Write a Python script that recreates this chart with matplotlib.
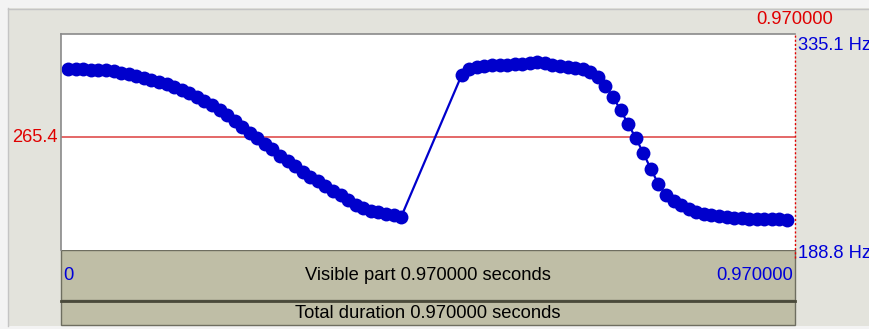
import matplotlib
matplotlib.use('Agg')
import matplotlib.pyplot as plt
import numpy as np
from matplotlib.patches import Rectangle

plt.rcParams['font.family'] = ['Liberation Sans', 'DejaVu Sans']

# pitch frames (10 ms step), two voiced stretches
frame_step = 0.01
first_frame_time = 0.0095
seg1_start = 0
seg2_start = 52
seg1_hz = [311.4, 311.4, 311.1, 310.7, 310.7, 310.4, 310.0, 309.0, 308.0, 306.6,
           305.3, 303.9, 302.6, 300.9, 299.2, 297.2, 295.1, 292.4, 289.7, 287.0,
           283.6, 280.2, 276.2, 272.1, 268.0, 264.7, 260.6, 257.2, 252.5, 249.1,
           245.7, 241.6, 238.2, 235.5, 232.1, 228.8, 226.1, 222.7, 219.3, 217.2,
           215.2, 214.2, 213.2, 212.5, 211.2]
seg2_hz = [307.3, 311.4, 312.7, 313.4, 313.8, 314.1, 314.4, 314.8, 315.1, 315.5,
           315.8, 315.5, 314.4, 313.4, 312.7, 312.1, 311.4, 309.4, 306.0, 299.9,
           292.4, 283.6, 274.1, 264.7, 254.5, 243.7, 233.5, 226.1, 222.0, 219.3,
           216.6, 214.5, 213.5, 212.5, 211.8, 211.2, 210.8, 210.5, 210.1, 209.8,
           209.8, 209.8, 209.5, 209.1]

f_min, f_max = 188.8, 335.1
cursor_hz = 265.4
duration = 0.97

frames = np.concatenate([np.arange(seg1_start, seg1_start + len(seg1_hz)),
                         np.arange(seg2_start, seg2_start + len(seg2_hz))])
times = first_frame_time + frames * frame_step
pitch = np.array(seg1_hz + seg2_hz)

W, H = 870, 329
fig = plt.figure(figsize=(W / 100, H / 100), dpi=100)
fig.patch.set_facecolor('#e3e3dc')

# window chrome, drawn in pixel units
bg = fig.add_axes([0, 0, 1, 1], zorder=0)
bg.set_xlim(0, W)
bg.set_ylim(H, 0)
bg.axis('off')
bg.add_patch(Rectangle((0, 0), W, 8, color='#f3f3f3', lw=0))
bg.add_patch(Rectangle((0, 0), 8, H, color='#f3f3f3', lw=0))
bg.add_patch(Rectangle((0, 326), W, 3, color='#f3f3f3', lw=0))
bg.plot([8, W], [8.5, 8.5], color='#c4c4c4', lw=1)
bg.plot([8.5, 8.5], [8, 326], color='#c4c4c4', lw=1)

tan = '#bfbea6'
bg.add_patch(Rectangle((61, 250), 734, 50, facecolor=tan, edgecolor='#6e6e60', lw=1))
bg.add_patch(Rectangle((61, 301), 734, 24, facecolor=tan, edgecolor='#6e6e60', lw=1))
bg.plot([61, 795], [300.5, 300.5], color='#4a4a3a', lw=2)

red = '#e00000'
blue = '#0000d8'
fs = 13.2
bg.text(795, 20, '0.970000', color=red, fontsize=fs, ha='center', va='center')
bg.text(798, 45, '335.1 Hz', color=blue, fontsize=fs, ha='left', va='center')
bg.text(798, 253, '188.8 Hz', color=blue, fontsize=fs, ha='left', va='center')
bg.text(58, 137, '265.4', color=red, fontsize=fs, ha='right', va='center')
bg.text(63, 276, '0', color=blue, fontsize=fs, ha='left', va='center')
bg.text(428, 275, 'Visible part 0.970000 seconds', color='black', fontsize=fs,
        ha='center', va='center')
bg.text(793, 276, '0.970000', color=blue, fontsize=fs, ha='right', va='center')
bg.text(428, 313, 'Total duration 0.970000 seconds', color='black', fontsize=fs,
        ha='center', va='center')

# pitch area
ax = fig.add_axes([61 / W, 1 - 250 / H, 734 / W, 216 / H], zorder=1)
ax.set_facecolor('white')
ax.set_xlim(0, duration)
ax.set_ylim(f_min, f_max)
ax.set_xticks([])
ax.set_yticks([])
for s in ['right', 'bottom']:
    ax.spines[s].set_visible(False)
for s in ['top', 'left']:
    ax.spines[s].set_color('#8a8a8a')
    ax.spines[s].set_linewidth(1.2)

ax.axhline(cursor_hz, color='#e25c5c', lw=1.3, zorder=1)
ax.axvline(duration, ymin=-0.035, ymax=1, color=red, lw=1, ls=(0, (1.5, 1.5)),
           clip_on=False, zorder=3)
ax.plot(times, pitch, color='#0000cc', lw=1.6, marker='o', markersize=10,
        markeredgewidth=0, zorder=2)

fig.savefig('out.png', dpi=100, facecolor=fig.get_facecolor())
